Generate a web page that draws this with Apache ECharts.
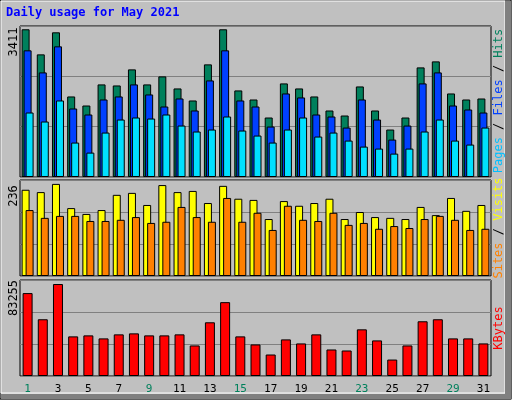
<!DOCTYPE html>
<html><head><meta charset="utf-8">
<script src="https://cdn.jsdelivr.net/npm/echarts@6/dist/echarts.min.js"></script>
<style>html,body{margin:0;padding:0;background:#c0c0c0}#c{width:512px;height:400px}</style>
</head><body><div id="c"></div>
<script>
const days = Array.from({length:31},(_,i)=>String(i+1));
const weekend = ['1','2','8','9','15','16','22','23','29','30'];
const hits = [3411,2832,3341,1860,1651,2138,2114,2485,2138,2323,2045,1767,2601,3411,1999,1790,1374,2161,2045,1860,1536,1420,2091,1536,1096,1374,2531,2670,1929,1790,1813];
const files = [2925,2415,3017,1582,1443,1790,1860,2138,1906,1628,1813,1536,2230,2925,1767,1628,1165,1929,1837,1443,1397,1142,1790,1327,864,1188,2161,2415,1651,1559,1489];
const pages = [1489,1281,1767,795,563,1026,1327,1374,1350,1443,1188,1050,1096,1397,1073,957,795,1096,1374,934,1026,841,702,656,540,656,1050,1327,841,749,1142];
const visits = [221,215,236,174,159,169,208,213,182,233,215,218,187,231,198,195,146,192,180,187,198,146,164,151,149,146,177,156,200,167,182];
const sites = [169,149,154,154,141,141,144,151,136,139,177,151,139,200,139,162,118,180,144,141,162,131,136,121,128,123,146,154,144,118,121];
const kbytes = [75058,51358,83255,35859,36771,34036,37683,38594,36771,36771,37683,27654,48623,66855,35859,28566,19450,33125,29478,37683,24008,23096,42241,32213,14891,27654,49535,51358,34036,34036,29478];
const maxLabels = ['3411','236','83255'];

const font = '"DejaVu Sans Mono", monospace';
const grids = [
  {left:20, width:471, top:26, height:151},
  {left:20, width:471, top:180, height:96},
  {left:20, width:471, top:280, height:96}
];
const axMax = [3487, 246, 86899];
const xAxes = grids.map((g,i)=>({
  type:'category', data:days, gridIndex:i, boundaryGap:true,
  axisLine:{show:false}, axisTick:{show:false},
  axisLabel: i===2 ? {show:true, fontFamily:font, fontSize:11, margin:8,
    color:(v)=>weekend.includes(v)?'#00805c':'#000'} : {show:false}
}));
const yAxes = grids.map((g,i)=>({
  type:'value', gridIndex:i, min:0, max:axMax[i], interval:axMax[i]/3,
  axisLine:{show:false}, axisTick:{show:false}, axisLabel:{show:false},
  splitLine:{show:true, lineStyle:{color:'#808080', width:1}}
}));
const bs = {borderColor:'#000', borderWidth:1};
const series = [
  {type:'bar', xAxisIndex:0, yAxisIndex:0, data:hits, barWidth:8, barGap:'-75%', itemStyle:{color:'#00805c',...bs}},
  {type:'bar', xAxisIndex:0, yAxisIndex:0, data:files, barWidth:8, barGap:'-75%', itemStyle:{color:'#0040ff',...bs}},
  {type:'bar', xAxisIndex:0, yAxisIndex:0, data:pages, barWidth:8, barGap:'-75%', itemStyle:{color:'#00e0ff',...bs}},
  {type:'bar', xAxisIndex:1, yAxisIndex:1, data:visits, barWidth:8, barGap:'-50%', itemStyle:{color:'#ffff00',...bs}},
  {type:'bar', xAxisIndex:1, yAxisIndex:1, data:sites, barWidth:8, barGap:'-50%', itemStyle:{color:'#ff8000',...bs}},
  {type:'bar', xAxisIndex:2, yAxisIndex:2, data:kbytes, barWidth:10, itemStyle:{color:'#ff0000',...bs}}
];
function vtext(x,y,parts){
  return parts.map((p,k)=>null);
}
const rightParts = [
  {y:130, items:[['Pages','#00c0ff'],[' / ','#000'],['Files','#0040ff'],[' / ','#000'],['Hits','#00805c']], cy:101},
  {y:230, items:[['Sites','#ff8000'],[' / ','#000'],['Visits','#ffff00']], cy:228},
  {y:330, items:[['KBytes','#ff0000']], cy:328}
];
const graphic = [
  {type:'rect', shape:{x:0,y:0,width:511,height:399}, style:{fill:'none', stroke:'#000', lineWidth:1}, silent:true},
  {type:'rect', shape:{x:1,y:1,width:504,height:392}, style:{fill:'none', stroke:'#fff', lineWidth:1}, silent:true},
  {type:'rect', shape:{x:505,y:1,width:6,height:398}, style:{fill:'#808080'}, silent:true},
  {type:'rect', shape:{x:1,y:394,width:510,height:5}, style:{fill:'#808080'}, silent:true},
  {type:'text', left:6, top:7, style:{text:'Daily usage for May 2021', fill:'#0000ff', font:'bold 12px '+font}},
];
const ylab = [[14,42],[14,196],[14,298]];
maxLabels.forEach((t,i)=>graphic.push({type:'text', x:ylab[i][0], y:ylab[i][1], rotation:Math.PI/2,
  style:{text:t, fill:'#000', font:'12px '+font, align:'center', verticalAlign:'middle'}}));
rightParts.forEach(rp=>{
  const rich={}; let s='';
  rp.items.forEach((it,k)=>{rich['r'+k]={fill:it[1], font:'12px '+font}; s+='{r'+k+'|'+it[0]+'}';});
  graphic.push({type:'text', x:499, y:rp.cy, rotation:Math.PI/2,
    style:{text:s, rich:rich, font:'12px '+font, align:'center', verticalAlign:'middle'}});
});
const chart = echarts.init(document.getElementById('c'));
chart.setOption({
  backgroundColor:'#c0c0c0', animation:false,
  grid: grids.map(g=>({...g, show:true, borderColor:'#000', borderWidth:1, backgroundColor:'#c0c0c0'})),
  xAxis:xAxes, yAxis:yAxes, series, graphic
});
</script></body></html>
